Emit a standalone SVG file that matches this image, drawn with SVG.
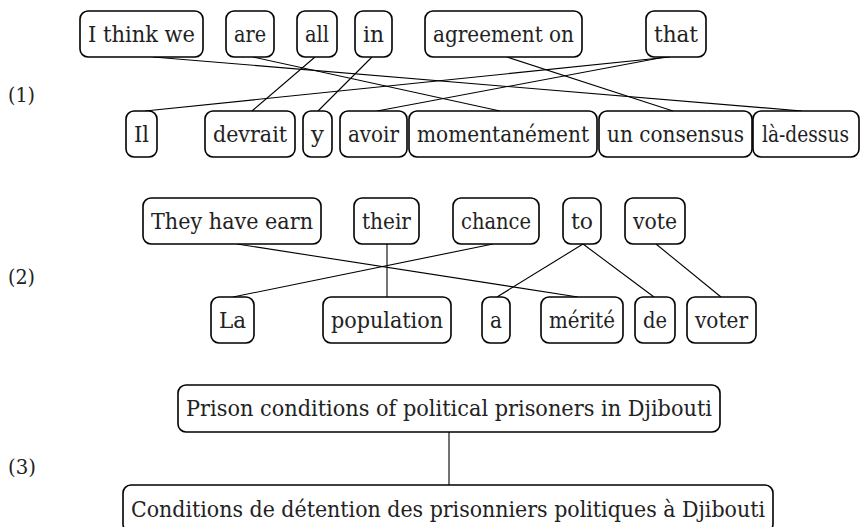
<svg xmlns="http://www.w3.org/2000/svg" width="861" height="527" viewBox="0 0 861 527">
<style>
.box{fill:#fff;stroke:#000;stroke-width:1.6}
.word{font-family:'DejaVu Serif','Liberation Serif',serif;font-size:22px;fill:#222;text-anchor:middle}
.num{font-family:'DejaVu Serif','Liberation Serif',serif;font-size:20px;fill:#222}
.conn line{stroke:#000;stroke-width:1.1}
</style>
<rect width="861" height="527" fill="#fff"/>
<text class="num" x="8" y="102" textLength="27" lengthAdjust="spacingAndGlyphs">(1)</text>
<text class="num" x="8" y="284" textLength="27" lengthAdjust="spacingAndGlyphs">(2)</text>
<text class="num" x="8" y="474" textLength="28" lengthAdjust="spacingAndGlyphs">(3)</text>
<g id="connectors" class="conn">
<line x1="153" y1="57" x2="802" y2="111"/>
<line x1="253" y1="57" x2="500" y2="111"/>
<line x1="315" y1="57" x2="252" y2="111"/>
<line x1="372" y1="57" x2="318" y2="111"/>
<line x1="507" y1="57" x2="673" y2="111"/>
<line x1="670" y1="57" x2="145" y2="111"/>
<line x1="665" y1="57" x2="377" y2="111"/>
<line x1="237" y1="244" x2="578" y2="297"/>
<line x1="387" y1="244" x2="387" y2="297"/>
<line x1="493" y1="244" x2="233" y2="297"/>
<line x1="583" y1="244" x2="497" y2="297"/>
<line x1="583" y1="244" x2="654" y2="297"/>
<line x1="656" y1="244" x2="721" y2="297"/>
<line x1="449" y1="432" x2="449" y2="485"/>
</g>
<g id="n1_think"><rect class="box" x="80" y="11" width="123" height="46" rx="8"/><text class="word" x="141.5" y="42" textLength="107" lengthAdjust="spacingAndGlyphs">I think we</text></g>
<g id="n1_are"><rect class="box" x="226" y="11" width="48" height="46" rx="8"/><text class="word" x="250" y="42" textLength="32" lengthAdjust="spacingAndGlyphs">are</text></g>
<g id="n1_all"><rect class="box" x="297" y="11" width="40" height="46" rx="8"/><text class="word" x="317" y="42" textLength="24" lengthAdjust="spacingAndGlyphs">all</text></g>
<g id="n1_in"><rect class="box" x="355" y="11" width="37" height="46" rx="8"/><text class="word" x="373.5" y="42" textLength="21" lengthAdjust="spacingAndGlyphs">in</text></g>
<g id="n1_agreement"><rect class="box" x="425" y="11" width="157" height="46" rx="8"/><text class="word" x="503.5" y="42" textLength="141" lengthAdjust="spacingAndGlyphs">agreement on</text></g>
<g id="n1_that"><rect class="box" x="646" y="11" width="60" height="46" rx="8"/><text class="word" x="676" y="42" textLength="44" lengthAdjust="spacingAndGlyphs">that</text></g>
<g id="n1_il"><rect class="box" x="126" y="111" width="31" height="46" rx="8"/><text class="word" x="141.5" y="142" textLength="15" lengthAdjust="spacingAndGlyphs">Il</text></g>
<g id="n1_devrait"><rect class="box" x="205" y="111" width="90" height="46" rx="8"/><text class="word" x="250" y="142" textLength="74" lengthAdjust="spacingAndGlyphs">devrait</text></g>
<g id="n1_y"><rect class="box" x="303" y="111" width="29" height="46" rx="8"/><text class="word" x="317.5" y="142" textLength="13" lengthAdjust="spacingAndGlyphs">y</text></g>
<g id="n1_avoir"><rect class="box" x="340" y="111" width="67" height="46" rx="8"/><text class="word" x="373.5" y="142" textLength="51" lengthAdjust="spacingAndGlyphs">avoir</text></g>
<g id="n1_moment"><rect class="box" x="409" y="111" width="188" height="46" rx="8"/><text class="word" x="503" y="142" textLength="172" lengthAdjust="spacingAndGlyphs">momentanément</text></g>
<g id="n1_consensus"><rect class="box" x="599" y="111" width="153" height="46" rx="8"/><text class="word" x="675.5" y="142" textLength="137" lengthAdjust="spacingAndGlyphs">un consensus</text></g>
<g id="n1_dessus"><rect class="box" x="753" y="111" width="106" height="46" rx="8"/><text class="word" x="805.5" y="142" textLength="87" lengthAdjust="spacingAndGlyphs">là-dessus</text></g>
<g id="n2_they"><rect class="box" x="143" y="198" width="178" height="46" rx="8"/><text class="word" x="232" y="229" textLength="162" lengthAdjust="spacingAndGlyphs">They have earn</text></g>
<g id="n2_their"><rect class="box" x="354" y="198" width="65" height="46" rx="8"/><text class="word" x="386.5" y="229" textLength="49" lengthAdjust="spacingAndGlyphs">their</text></g>
<g id="n2_chance"><rect class="box" x="453" y="198" width="86" height="46" rx="8"/><text class="word" x="496" y="229" textLength="70" lengthAdjust="spacingAndGlyphs">chance</text></g>
<g id="n2_to"><rect class="box" x="563" y="198" width="38" height="46" rx="8"/><text class="word" x="582" y="229" textLength="22" lengthAdjust="spacingAndGlyphs">to</text></g>
<g id="n2_vote"><rect class="box" x="625" y="198" width="60" height="46" rx="8"/><text class="word" x="655" y="229" textLength="44" lengthAdjust="spacingAndGlyphs">vote</text></g>
<g id="n2_la"><rect class="box" x="211" y="297" width="43" height="46" rx="8"/><text class="word" x="232.5" y="328" textLength="27" lengthAdjust="spacingAndGlyphs">La</text></g>
<g id="n2_population"><rect class="box" x="323" y="297" width="128" height="46" rx="8"/><text class="word" x="387" y="328" textLength="112" lengthAdjust="spacingAndGlyphs">population</text></g>
<g id="n2_a"><rect class="box" x="482" y="297" width="28" height="46" rx="8"/><text class="word" x="496" y="328" textLength="12" lengthAdjust="spacingAndGlyphs">a</text></g>
<g id="n2_merite"><rect class="box" x="541" y="297" width="82" height="46" rx="8"/><text class="word" x="582" y="328" textLength="66" lengthAdjust="spacingAndGlyphs">mérité</text></g>
<g id="n2_de"><rect class="box" x="635" y="297" width="40" height="46" rx="8"/><text class="word" x="655" y="328" textLength="24" lengthAdjust="spacingAndGlyphs">de</text></g>
<g id="n2_voter"><rect class="box" x="687" y="297" width="69" height="46" rx="8"/><text class="word" x="721.5" y="328" textLength="53" lengthAdjust="spacingAndGlyphs">voter</text></g>
<g id="n3_en"><rect class="box" x="178" y="385" width="542" height="47" rx="8"/><text class="word" x="449" y="416" textLength="526" lengthAdjust="spacingAndGlyphs">Prison conditions of political prisoners in Djibouti</text></g>
<g id="n3_fr"><rect class="box" x="123" y="485" width="650" height="47" rx="8"/><text class="word" x="448" y="517" textLength="634" lengthAdjust="spacingAndGlyphs">Conditions de détention des prisonniers politiques à Djibouti</text></g>
</svg>
